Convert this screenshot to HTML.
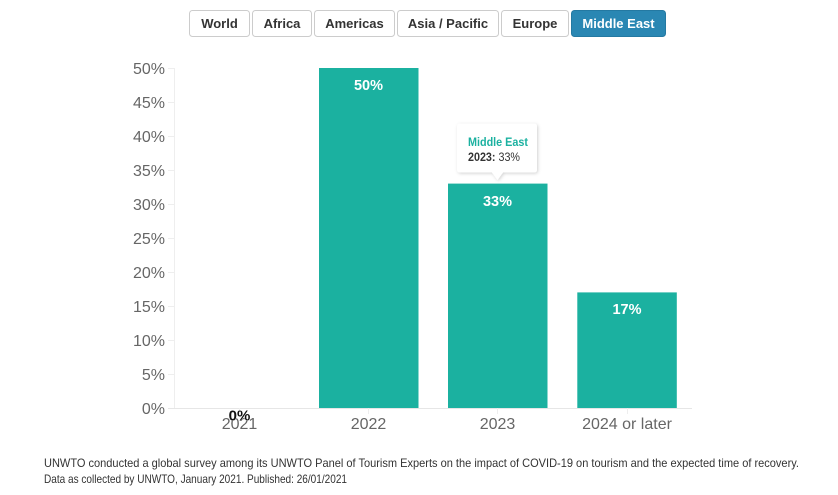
<!DOCTYPE html>
<html><head><meta charset="utf-8"><style>
html,body{margin:0;padding:0;background:#fff;width:838px;height:495px;overflow:hidden;}
svg{display:block;font-family:"Liberation Sans",sans-serif;}
</style></head><body>
<svg width="838" height="495" viewBox="0 0 838 495" xmlns="http://www.w3.org/2000/svg">
<defs>
<filter id="sh" x="-20%" y="-20%" width="140%" height="150%">
<feDropShadow dx="1" dy="1" stdDeviation="1.5" flood-color="#000" flood-opacity="0.18"/>
</filter>
</defs>
<!-- buttons -->
<g font-size="13" font-weight="bold" text-anchor="middle">
<rect x="189.5" y="10.5" width="60" height="26" rx="3" fill="#fff" stroke="#ccc"/>
<text x="219.5" y="28" fill="#333">World</text>
<rect x="252.5" y="10.5" width="59" height="26" rx="3" fill="#fff" stroke="#ccc"/>
<text x="282" y="28" fill="#333">Africa</text>
<rect x="314.5" y="10.5" width="80" height="26" rx="3" fill="#fff" stroke="#ccc"/>
<text x="354.5" y="28" fill="#333">Americas</text>
<rect x="397.5" y="10.5" width="101" height="26" rx="3" fill="#fff" stroke="#ccc"/>
<text x="448" y="28" fill="#333">Asia / Pacific</text>
<rect x="501.5" y="10.5" width="67" height="26" rx="3" fill="#fff" stroke="#ccc"/>
<text x="535" y="28" fill="#333">Europe</text>
<rect x="571.5" y="10.5" width="94" height="26" rx="3" fill="#2a87b3" stroke="#2479a2"/>
<text x="618.5" y="28" fill="#fff">Middle East</text>
</g>
<!-- axes -->
<line x1="174.5" y1="68" x2="174.5" y2="408" stroke="#eeeeee" stroke-width="1"/>
<line x1="168" y1="408.5" x2="692" y2="408.5" stroke="#e6e6e6" stroke-width="1"/>
<g stroke="#eeeeee" stroke-width="1">
<line x1="168" y1="68.5" x2="174" y2="68.5"/>
<line x1="168" y1="102.5" x2="174" y2="102.5"/>
<line x1="168" y1="136.5" x2="174" y2="136.5"/>
<line x1="168" y1="170.5" x2="174" y2="170.5"/>
<line x1="168" y1="204.5" x2="174" y2="204.5"/>
<line x1="168" y1="238.5" x2="174" y2="238.5"/>
<line x1="168" y1="272.5" x2="174" y2="272.5"/>
<line x1="168" y1="306.5" x2="174" y2="306.5"/>
<line x1="168" y1="340.5" x2="174" y2="340.5"/>
<line x1="168" y1="374.5" x2="174" y2="374.5"/>
<line x1="239.5" y1="408" x2="239.5" y2="414"/>
<line x1="368.5" y1="408" x2="368.5" y2="414"/>
<line x1="497.5" y1="408" x2="497.5" y2="414"/>
<line x1="627.5" y1="408" x2="627.5" y2="414"/>
</g>
<g font-size="16" fill="#666" text-anchor="end">
<text x="165" y="74">50%</text>
<text x="165" y="108">45%</text>
<text x="165" y="142">40%</text>
<text x="165" y="176">35%</text>
<text x="165" y="210">30%</text>
<text x="165" y="244">25%</text>
<text x="165" y="278">20%</text>
<text x="165" y="312">15%</text>
<text x="165" y="346">10%</text>
<text x="165" y="380">5%</text>
<text x="165" y="414">0%</text>
</g>
<g font-size="16" fill="#666" text-anchor="middle">
<text x="239.5" y="429">2021</text>
<text x="368.5" y="429">2022</text>
<text x="497.5" y="429">2023</text>
<text x="627" y="429">2024 or later</text>
</g>
<!-- bars -->
<g fill="#1bb1a0">
<rect x="319" y="68" width="99.5" height="340"/>
<rect x="448" y="183.6" width="99.5" height="224.4"/>
<rect x="577.3" y="292.4" width="99.5" height="115.6"/>
</g>
<g font-size="14.5" font-weight="bold" fill="#fff" text-anchor="middle">
<text x="368.5" y="90">50%</text>
<text x="497.5" y="206">33%</text>
<text x="627" y="314">17%</text>
</g>
<text x="239.5" y="420.5" font-size="15" font-weight="bold" fill="#111" text-anchor="middle" stroke="#fff" stroke-width="0.6" paint-order="stroke">0%</text>
<!-- tooltip -->
<path d="M460 123.5 H534 Q537 123.5 537 126.5 V169.5 Q537 172.5 534 172.5 H503 L497.5 180 L492 172.5 H460 Q457 172.5 457 169.5 V126.5 Q457 123.5 460 123.5 Z" fill="#fff" filter="url(#sh)"/>
<text x="468" y="146" font-size="12" font-weight="bold" fill="#1bb1a0" textLength="60" lengthAdjust="spacingAndGlyphs">Middle East</text>
<text x="468" y="161" font-size="12" fill="#333" textLength="52" lengthAdjust="spacingAndGlyphs"><tspan font-weight="bold">2023:</tspan> 33%</text>
<!-- footer -->
<g font-size="12" fill="#333">
<text x="44" y="467" textLength="755" lengthAdjust="spacingAndGlyphs">UNWTO conducted a global survey among its UNWTO Panel of Tourism Experts on the impact of COVID-19 on tourism and the expected time of recovery.</text>
<text x="44" y="483" textLength="303" lengthAdjust="spacingAndGlyphs">Data as collected by UNWTO, January 2021. Published: 26/01/2021</text>
</g>
</svg>
</body></html>
